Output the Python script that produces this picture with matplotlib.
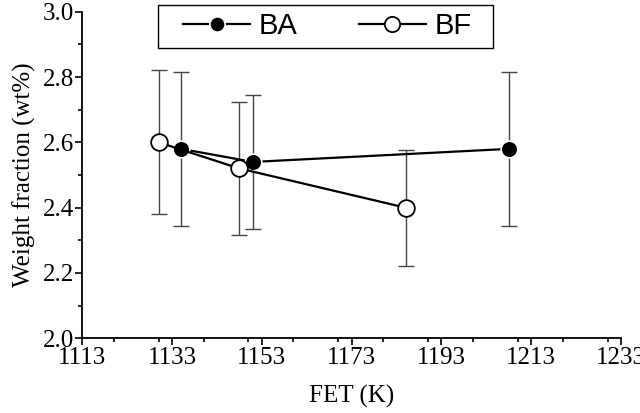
import matplotlib
matplotlib.use("Agg")
import matplotlib.pyplot as plt
from matplotlib.patches import Rectangle
from matplotlib.ticker import MultipleLocator

# Data
ba_fet = [1135, 1151, 1208]
ba_wt = [2.58, 2.54, 2.58]
ba_err = [0.235, 0.205, 0.235]

bf_fet = [1130, 1148, 1185]
bf_wt = [2.60, 2.52, 2.40]
bf_err = [0.22, 0.203, 0.178]

x_ticks = [1113, 1133, 1153, 1173, 1193, 1213, 1233]
y_ticks = [2.0, 2.2, 2.4, 2.6, 2.8, 3.0]

serif = ["Liberation Serif", "DejaVu Serif"]
sans = ["Liberation Sans", "DejaVu Sans"]

fig = plt.figure(figsize=(6.4, 4.13), dpi=100)
ax = fig.add_axes([82.3 / 640, 1 - 338.3 / 413, (621 - 82.3) / 640, (338.3 - 11.7) / 413])

err_kw = dict(fmt="none", ecolor="#444444", elinewidth=1.0, capsize=6, capthick=1.0, zorder=2)
ax.errorbar(ba_fet, ba_wt, yerr=ba_err, **err_kw)
ax.errorbar(bf_fet, bf_wt, yerr=bf_err, **err_kw)

l_ba, = ax.plot(ba_fet, ba_wt, "-o", color="black", lw=1.6, ms=12,
                mfc="black", mec="white", mew=1.2, zorder=3, label="BA")
l_bf, = ax.plot(bf_fet, bf_wt, "-o", color="black", lw=1.6, ms=12,
                mfc="white", mec="black", mew=1.3, zorder=3, label="BF")

ax.set_xlim(1113, 1233)
ax.set_ylim(2.0, 3.0)
ax.set_xticks(x_ticks)
ax.set_yticks(y_ticks)
ax.set_xticklabels([str(t) for t in x_ticks])
ax.set_yticklabels([f"{t:.1f}" for t in y_ticks])
ax.xaxis.set_minor_locator(MultipleLocator(10))
ax.yaxis.set_minor_locator(MultipleLocator(0.1))

for s in ["top", "right"]:
    ax.spines[s].set_visible(False)
for s in ["left", "bottom"]:
    ax.spines[s].set_linewidth(1.3)

ax.tick_params(which="major", direction="out", length=5, width=1.2, pad=1,
               labelsize=18)
ax.tick_params(which="minor", direction="out", length=3, width=1.2)
for lab in ax.get_xticklabels() + ax.get_yticklabels():
    lab.set_family(serif)

ax.set_xlabel("FET (K)", fontsize=18, family=serif, labelpad=12)
ax.set_ylabel("Weight fraction (wt%)", fontsize=18, family=serif, labelpad=5)

# Legend box
fig.patches.append(Rectangle((158 / 640, 1 - 48 / 413), (493 - 158) / 640, 43 / 413,
                             transform=fig.transFigure, fill=False,
                             edgecolor="black", lw=1.0, zorder=5))
leg = fig.legend(handles=[l_ba, l_bf], loc="center left",
                 bbox_to_anchor=(183 / 640, 1 - 26.5 / 413), ncol=2,
                 frameon=False, prop={"family": sans, "size": 21},
                 handlelength=2.3, handletextpad=0.3, columnspacing=2.1,
                 borderpad=0, borderaxespad=0)
for h in leg.legend_handles:
    h.set_markersize(11)

fig.savefig("out.png", dpi=100)
